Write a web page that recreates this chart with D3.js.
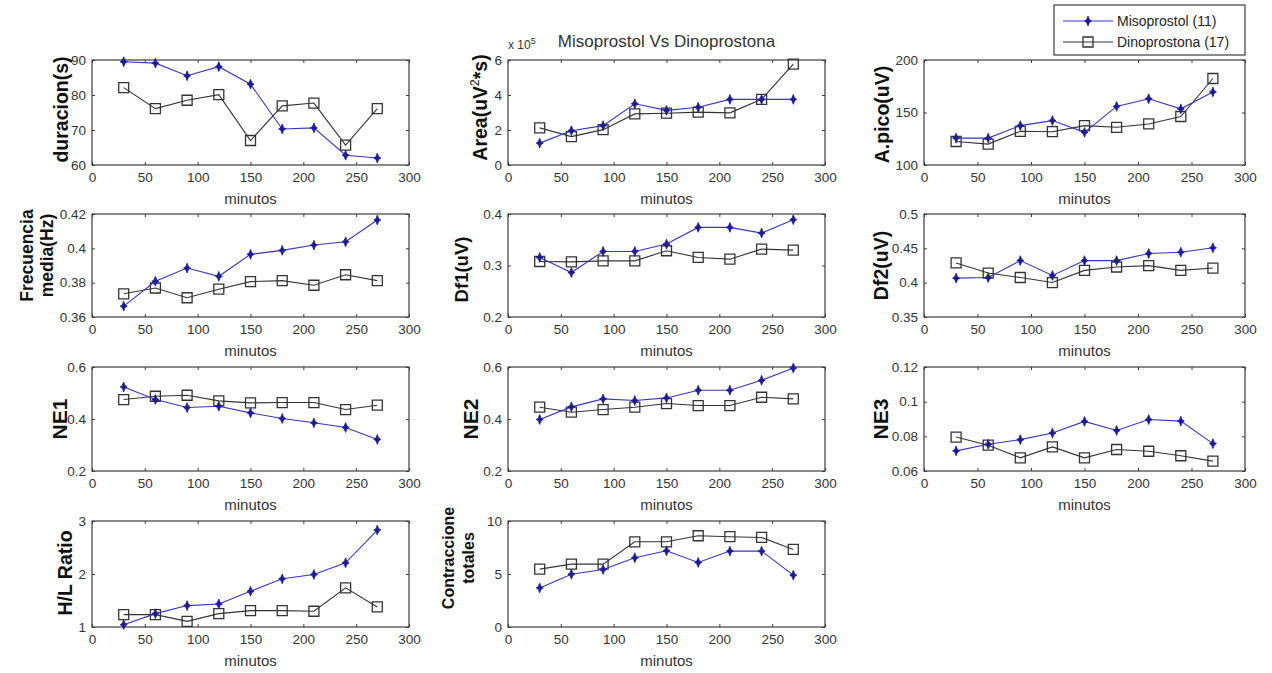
<!DOCTYPE html>
<html>
<head>
<meta charset="utf-8">
<script src="https://cdn.jsdelivr.net/npm/d3@7"></script>
<style>
  body { margin: 0; background: #fff; }
  text { font-family: "Liberation Sans", Arial, sans-serif; }
</style>
</head>
<body>
<div id="chart"></div>
<script>
// sampling times (minutes)
var minutos = [30, 60, 90, 120, 150, 180, 210, 240, 270];
var xTicks = [0, 50, 100, 150, 200, 250, 300];
var seriesNames = ["Misoprostol (11)", "Dinoprostona (17)"];

var duracionMiso = [89.5, 89.1, 85.5, 88.1, 83.1, 70.3, 70.6, 62.8, 62.0];
var duracionDino = [82.1, 76.1, 78.5, 80.1, 67.0, 76.9, 77.7, 65.7, 76.1];

var areaMiso = [1.25e5, 1.96e5, 2.25e5, 3.5e5, 3.12e5, 3.3e5, 3.75e5, 3.75e5, 3.75e5];
var areaDino = [2.12e5, 1.62e5, 2.02e5, 2.92e5, 2.96e5, 3.02e5, 2.98e5, 3.75e5, 5.77e5];

var picoMiso = [125.6, 125.6, 137.5, 142.3, 131.1, 155.8, 163.1, 153.5, 169.6];
var picoDino = [122.4, 119.9, 132.1, 131.7, 137.5, 135.9, 139.1, 146.2, 182.4];

var frecMiso = [0.3663, 0.3808, 0.3885, 0.3837, 0.3965, 0.3988, 0.4019, 0.4038, 0.4165];
var frecDino = [0.3735, 0.3769, 0.3712, 0.3762, 0.3806, 0.3812, 0.3785, 0.3846, 0.3812];

var df1Miso = [0.3156, 0.2864, 0.3273, 0.3273, 0.3416, 0.374, 0.374, 0.363, 0.389];
var df1Dino = [0.3078, 0.3071, 0.309, 0.309, 0.3286, 0.3156, 0.3123, 0.3318, 0.3299];

var df2Miso = [0.4066, 0.4075, 0.4321, 0.4105, 0.4321, 0.4321, 0.4425, 0.4444, 0.4508];
var df2Dino = [0.4287, 0.414, 0.4075, 0.4002, 0.4179, 0.4228, 0.4248, 0.4179, 0.4213];

var ne1Miso = [0.5233, 0.4748, 0.444, 0.4492, 0.4236, 0.4019, 0.3853, 0.3674, 0.3214];
var ne1Dino = [0.4748, 0.4875, 0.4914, 0.4696, 0.462, 0.4633, 0.4633, 0.4364, 0.453];

var ne2Miso = [0.3981, 0.4466, 0.4773, 0.4709, 0.4811, 0.5105, 0.5105, 0.5489, 0.5961];
var ne2Dino = [0.4454, 0.4262, 0.4364, 0.4454, 0.4594, 0.4518, 0.4518, 0.4837, 0.4773];

var ne3Miso = [0.0716, 0.0754, 0.0781, 0.0819, 0.0886, 0.0834, 0.0897, 0.0888, 0.0758];
var ne3Dino = [0.0796, 0.0749, 0.0676, 0.0739, 0.0676, 0.0724, 0.0714, 0.0688, 0.0657];

var hlMiso = [1.044, 1.252, 1.404, 1.435, 1.675, 1.909, 1.991, 2.211, 2.83];
var hlDino = [1.233, 1.233, 1.107, 1.252, 1.309, 1.309, 1.297, 1.738, 1.379];

var contrMiso = [3.69, 4.98, 5.43, 6.53, 7.19, 6.09, 7.16, 7.16, 4.89];
var contrDino = [5.46, 5.93, 5.93, 8.04, 8.04, 8.61, 8.52, 8.45, 7.32];

var yLabels = [
  ["duracion(s)"], ["Area(uV2*s)"], ["A.pico(uV)"],
  ["Frecuencia", "media(Hz)"], ["Df1(uV)"], ["Df2(uV)"],
  ["NE1"], ["NE2"], ["NE3"],
  ["H/L Ratio"], ["Contraccione", "totales"]
];
var yTicks = [
  [60, 70, 80, 90], [0, 2e5, 4e5, 6e5], [100, 150, 200],
  [0.36, 0.38, 0.40, 0.42], [0.2, 0.3, 0.4], [0.35, 0.40, 0.45, 0.50],
  [0.2, 0.4, 0.6], [0.2, 0.4, 0.6], [0.06, 0.08, 0.10, 0.12],
  [1, 2, 3], [0, 5, 10]
];
var yTickText = [
  ["60", "70", "80", "90"], ["0", "2", "4", "6"], ["100", "150", "200"],
  ["0.36", "0.38", "0.4", "0.42"], ["0.2", "0.3", "0.4"], ["0.35", "0.4", "0.45", "0.5"],
  ["0.2", "0.4", "0.6"], ["0.2", "0.4", "0.6"], ["0.06", "0.08", "0.1", "0.12"],
  ["1", "2", "3"], ["0", "5", "10"]
];
var misoSeries = [duracionMiso, areaMiso, picoMiso, frecMiso, df1Miso, df2Miso, ne1Miso, ne2Miso, ne3Miso, hlMiso, contrMiso];
var dinoSeries = [duracionDino, areaDino, picoDino, frecDino, df1Dino, df2Dino, ne1Dino, ne2Dino, ne3Dino, hlDino, contrDino];

var svg_width = 1272;
var svg_height = 673;

// subplot grid edges
var colEdges = [[92, 409], [508, 825], [924, 1245]];
var rowEdges = [[60, 165], [214, 317], [367, 471], [521, 627]];

// y label placement: baseline distance left of the axis, font size, vertical shift
var labelGap = [24, 21, 35, 39, 40, 36, 25, 30, 36, 20, 34];
var labelSize = [19.5, 19.5, 19.5, 17.5, 18.5, 19.5, 21, 21, 21, 19.5, 16];
var labelShift = [-3, -5, 2, -10, 4, 0, 0, 0, 0, -1, -16];

var misoLine = '#3434c4';
var misoMark = '#1c1c92';
var dinoColor = '#333';
var axisColor = '#3c3c3c';

// four pointed star used for the misoprostol markers
var star4 = {
  draw: function (ctx, size) {
    var r = Math.sqrt(size) * 0.78, h = r * 0.72, i = r * 0.28;
    ctx.moveTo(0, -r);
    ctx.lineTo(i, -i);
    ctx.lineTo(h, 0);
    ctx.lineTo(i, i);
    ctx.lineTo(0, r);
    ctx.lineTo(-i, i);
    ctx.lineTo(-h, 0);
    ctx.lineTo(-i, -i);
    ctx.closePath();
  }
};
var starPath = d3.symbol(star4, 40)();
var squarePath = d3.symbol(d3.symbolSquare, 100)();

var main_svg = d3.select('#chart')
  .append('svg')
  .attr('width', svg_width)
  .attr('height', svg_height);

main_svg.append('rect')
  .attr('width', svg_width)
  .attr('height', svg_height)
  .attr('fill', '#fff');

var panels = yLabels.map(function (lab, k) {
  return {
    label: lab,
    ticks: yTicks[k],
    tickText: yTickText[k],
    miso: misoSeries[k],
    dino: dinoSeries[k],
    col: k % 3,
    row: Math.floor(k / 3)
  };
});

panels.forEach(function (p, k) {
  var x0 = colEdges[p.col][0], x1 = colEdges[p.col][1];
  var y0 = rowEdges[p.row][0], y1 = rowEdges[p.row][1];

  var x = d3.scaleLinear().domain([0, 300]).range([x0, x1]);
  var y = d3.scaleLinear()
    .domain([p.ticks[0], p.ticks[p.ticks.length - 1]])
    .range([y1, y0]);

  var g = main_svg.append('g');

  // bottom and top axes, ticks pointing inwards
  var xb = g.append('g')
    .attr('transform', 'translate(0,' + y1 + ')')
    .call(d3.axisBottom(x).tickValues(xTicks).tickSizeInner(-3).tickSizeOuter(0).tickPadding(6));
  g.append('g')
    .attr('transform', 'translate(0,' + y0 + ')')
    .call(d3.axisTop(x).tickValues(xTicks).tickSizeInner(-3).tickSizeOuter(0).tickFormat(''));

  var tickFmt = function (d, i) { return p.tickText[i]; };
  g.append('g')
    .attr('transform', 'translate(' + x0 + ',0)')
    .call(d3.axisLeft(y).tickValues(p.ticks).tickFormat(tickFmt).tickSizeInner(-3).tickSizeOuter(0).tickPadding(6));
  g.append('g')
    .attr('transform', 'translate(' + x1 + ',0)')
    .call(d3.axisRight(y).tickValues(p.ticks).tickSizeInner(-3).tickSizeOuter(0).tickFormat(''));

  g.selectAll('.domain').remove();
  g.selectAll('.tick line').attr('stroke', axisColor);
  g.selectAll('.tick text')
    .attr('fill', '#333')
    .style('font-size', '13.5px');
  xb.selectAll('.tick text').attr('dy', null).attr('y', 17);

  g.append('rect')
    .attr('x', x0).attr('y', y0)
    .attr('width', x1 - x0).attr('height', y1 - y0)
    .attr('fill', 'none')
    .attr('stroke', axisColor)
    .attr('stroke-width', 1.2);

  g.append('text')
    .attr('x', (x0 + x1) / 2)
    .attr('y', y1 + 39)
    .attr('text-anchor', 'middle')
    .attr('fill', '#333')
    .style('font-size', '15px')
    .text('minutos');

  // rotated y label, last line closest to the axis
  var n = p.label.length;
  p.label.forEach(function (line, i) {
    var lx = x0 - labelGap[k] - 20 * (n - 1 - i);
    var ly = (y0 + y1) / 2 + labelShift[k];
    var t = g.append('text')
      .attr('transform', 'translate(' + lx + ',' + ly + ') rotate(-90)')
      .attr('text-anchor', 'middle')
      .attr('fill', '#111')
      .style('font-size', labelSize[k] + 'px')
      .style('font-weight', 'bold');
    if (line === 'Area(uV2*s)') {
      t.append('tspan').text('Area(uV');
      t.append('tspan').attr('dy', -8).style('font-size', '12px').style('font-weight', 'normal').text('2');
      t.append('tspan').attr('dy', 8).text('*s)');
    } else {
      t.text(line);
    }
  });

  var line = d3.line()
    .x(function (d, i) { return x(minutos[i]); })
    .y(function (d) { return y(d); });

  g.append('path')
    .datum(p.dino)
    .attr('d', line)
    .attr('fill', 'none')
    .attr('stroke', dinoColor)
    .attr('stroke-width', 1.1);
  g.selectAll('.sq')
    .data(p.dino)
    .enter().append('path')
    .attr('d', squarePath)
    .attr('transform', function (d, i) { return 'translate(' + x(minutos[i]) + ',' + y(d) + ')'; })
    .attr('fill', 'none')
    .attr('stroke', dinoColor)
    .attr('stroke-width', 1.3);

  g.append('path')
    .datum(p.miso)
    .attr('d', line)
    .attr('fill', 'none')
    .attr('stroke', misoLine)
    .attr('stroke-width', 1.1);
  g.selectAll('.st')
    .data(p.miso)
    .enter().append('path')
    .attr('d', starPath)
    .attr('transform', function (d, i) { return 'translate(' + x(minutos[i]) + ',' + y(d) + ')'; })
    .attr('fill', misoMark)
    .attr('stroke', misoMark)
    .attr('stroke-width', 0.8);

  if (k === 1) {
    // exponent of the area axis and the figure title
    var ex = g.append('text')
      .attr('x', x0)
      .attr('y', y0 - 11)
      .attr('fill', '#333')
      .style('font-size', '12px');
    ex.append('tspan').text('x 10');
    ex.append('tspan').attr('dy', -5).style('font-size', '9px').text('5');

    g.append('text')
      .attr('x', (x0 + x1) / 2)
      .attr('y', 47)
      .attr('text-anchor', 'middle')
      .attr('fill', '#333')
      .style('font-size', '17px')
      .text('Misoprostol Vs Dinoprostona');
  }
});

// legend
var legend = main_svg.append('g');
legend.append('rect')
  .attr('x', 1054).attr('y', 5)
  .attr('width', 191).attr('height', 50)
  .attr('fill', '#fff')
  .attr('stroke', axisColor)
  .attr('stroke-width', 1.2);

var legendRows = legend.selectAll('.lr')
  .data(seriesNames)
  .enter().append('g')
  .attr('transform', function (d, i) { return 'translate(0,' + (21 + i * 21) + ')'; });

legendRows.append('line')
  .attr('x1', 1063).attr('x2', 1113)
  .attr('stroke', function (d, i) { return i === 0 ? misoLine : dinoColor; })
  .attr('stroke-width', 1.1);
legendRows.append('path')
  .attr('d', function (d, i) { return i === 0 ? starPath : squarePath; })
  .attr('transform', 'translate(1088,0)')
  .attr('fill', function (d, i) { return i === 0 ? misoMark : 'none'; })
  .attr('stroke', function (d, i) { return i === 0 ? misoMark : dinoColor; })
  .attr('stroke-width', function (d, i) { return i === 0 ? 0.8 : 1.3; });
legendRows.append('text')
  .attr('x', 1117)
  .attr('y', 5)
  .attr('fill', '#222')
  .style('font-size', '14px')
  .text(function (d) { return d; });
</script>
</body>
</html>
